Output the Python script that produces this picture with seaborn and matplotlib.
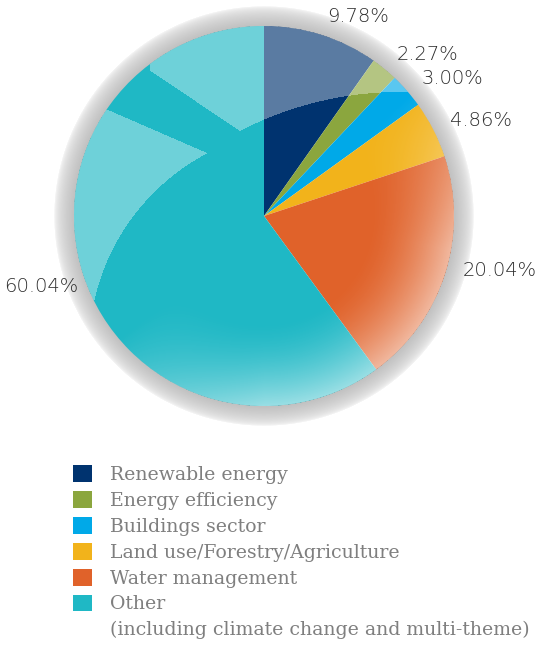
import numpy as np
import seaborn as sns
import matplotlib.pyplot as plt
from matplotlib.patches import Patch, Circle

sns.set_theme(style="white")

categories = ['Renewable energy', 'Energy efficiency', 'Buildings sector',
              'Land use/Forestry/Agriculture', 'Water management', 'Other']
other_note = '(including climate change and multi-theme)'
shares = [9.78, 2.27, 3.00, 4.86, 20.04, 60.04]
pct_labels = ['9.78%', '2.27%', '3.00%', '4.86%', '20.04%', '60.04%']
colors = ['#00336f', '#8ba63e', '#00a9e8', '#f2b31b', '#e0622a', '#1fb8c5']

W, H = 547, 647
cx, cy, r = 264, H - 216, 190


def main():
    fig = plt.figure(figsize=(W / 100, H / 100), dpi=100)
    ax = fig.add_axes([0, 0, 1, 1])
    ax.set_xlim(0, W)
    ax.set_ylim(0, H)
    ax.set_axis_off()

    # pixel grid (data coords) for the decorative shading
    xs = np.arange(W) + 0.5
    ys = np.arange(H) + 0.5
    X, Y = np.meshgrid(xs, ys)
    dx, dy = X - cx, Y - cy
    d = np.hypot(dx, dy) / r
    theta = np.degrees(np.arctan2(dy, dx))

    # grey ring shadow around the pie
    t = np.clip((d - 1.0) / 0.105, 0, 1)
    ring_a = np.where((d >= 0.98) & (d <= 1.105), 0.58 * (1 - t) ** 0.5, 0)
    ring = np.zeros((H, W, 4))
    ring[..., :3] = 0.58
    ring[..., 3] = ring_a
    ax.imshow(ring, extent=(0, W, 0, H), origin='lower', zorder=1)

    wedges, texts = ax.pie(shares, colors=colors, labels=pct_labels,
                           startangle=90, counterclock=False,
                           center=(cx, cy), radius=r, labeldistance=1.1,
                           wedgeprops=dict(linewidth=0),
                           textprops=dict(fontsize=14, color='#2e2e2e',
                                          fontweight='light'))
    ax.set_aspect('equal')
    ax.set_xlim(0, W)
    ax.set_ylim(0, H)
    for w in wedges:
        w.set_zorder(2)
    for w, tx in zip(wedges, texts):
        tx.set_zorder(5)
        mid = np.radians((w.theta1 + w.theta2) / 2)
        if np.cos(mid) < -0.5:
            # left-hand label hugs the ring and drops a little
            tx.set_position((cx + 1.03 * r * np.cos(mid),
                             cy + 1.03 * r * np.sin(mid)))
            tx.set_ha('right')
            tx.set_va('top')
        else:
            tx.set_ha('left')
            if np.sin(mid) < -0.2:
                tx.set_va('bottom')

    # gloss: light rim on lower right, highlights on upper left
    sx, sy = X, H - Y  # screen coords
    inside = d <= 1.0
    rim = np.clip((d - 0.55) / 0.45, 0, 1) ** 1.6
    direc = np.clip(1.3 * np.cos(np.radians(theta + 50)), 0, 1)
    alpha = 0.55 * rim * direc
    top = (np.hypot(sx - 400, sy - 440) > 348) & \
          ((sy - 72) * (240 - 152) - (sx - 152) * (131 - 72) < 0) & (sx > 150)
    left = (np.hypot(sx - 310, sy - 349) > 221) & \
           ((sy - 113) * (207 - 115) - (sx - 115) * (153 - 113) > 0) & (sx < 215)
    alpha = np.where(top, np.maximum(alpha, 0.36), alpha)
    alpha = np.where(left, np.maximum(alpha, 0.36), alpha)
    alpha = np.where(inside, alpha, 0)
    gloss = np.ones((H, W, 4))
    gloss[..., 3] = alpha
    im = ax.imshow(gloss, extent=(0, W, 0, H), origin='lower', zorder=3)
    im.set_clip_path(Circle((cx, cy), r, transform=ax.transData))

    handles = [Patch(facecolor=c, edgecolor='none') for c in colors]
    leg = ax.legend(handles, categories, loc='upper left',
                    bbox_to_anchor=(73 / W, (H - 465) / H),
                    frameon=False, borderpad=0, borderaxespad=0,
                    handlelength=1.0, handleheight=1.0,
                    handletextpad=0.95, labelspacing=0.37,
                    prop=dict(family='DejaVu Serif', size=13.6))
    for tx in leg.get_texts():
        tx.set_color('#7f7f7f')

    # second line of the last entry, under "Other"
    fig.canvas.draw()
    last = leg.get_texts()[-1]
    prev = leg.get_texts()[-2]
    bb = last.get_window_extent()
    step = prev.get_window_extent().y0 - bb.y0
    fig.text(bb.x0 / W, (bb.y0 - step) / H, other_note, color='#7f7f7f',
             fontsize=13.6, family='DejaVu Serif', ha='left', va='bottom')

    fig.savefig('out.png', dpi=100)
    plt.close(fig)


if __name__ == "__main__":
    main()
